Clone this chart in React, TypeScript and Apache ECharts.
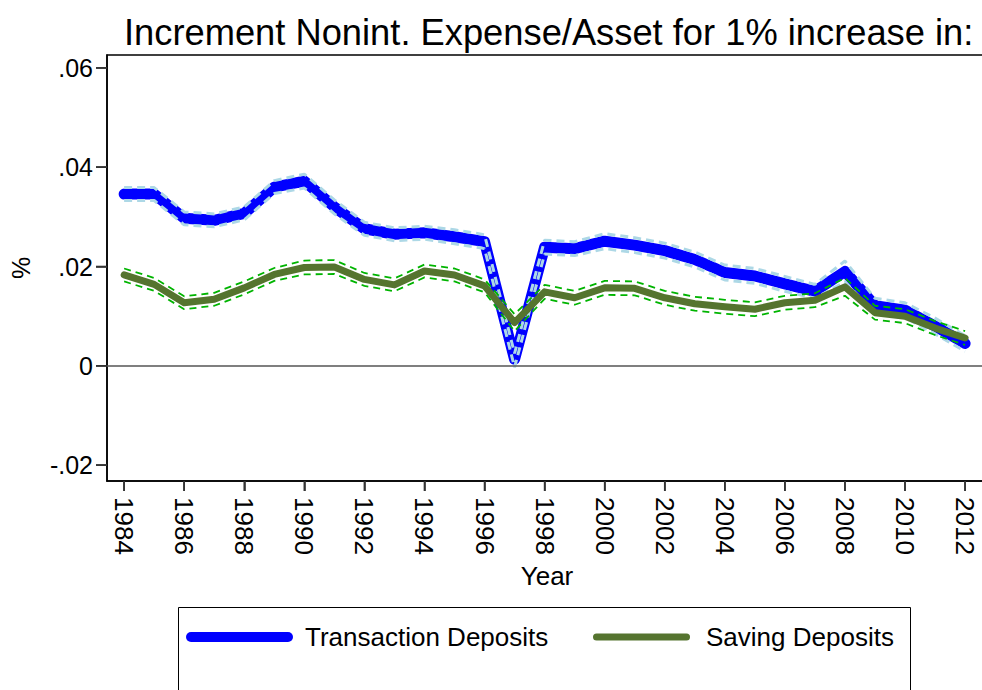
import React, { useEffect, useRef } from "react";
import * as echarts from "echarts";

const years = [1984,1985,1986,1987,1988,1989,1990,1991,1992,1993,1994,1995,1996,1997,1998,1999,2000,2001,2002,2003,2004,2005,2006,2007,2008,2009,2010,2011,2012];

const transVals = [0.0346,0.0346,0.0297,0.0293,0.0307,0.0360,0.0372,0.0320,0.0276,0.0265,0.0268,0.0260,0.0250,0.0013,0.0239,0.0236,0.0251,0.0243,0.0232,0.0214,0.0188,0.0181,0.0165,0.0150,0.0190,0.0121,0.0112,0.0080,0.0045];
const transLo = [0.0333,0.0333,0.0284,0.0280,0.0294,0.0347,0.0358,0.0306,0.0263,0.0252,0.0255,0.0246,0.0236,-0.0003,0.0225,0.0222,0.0236,0.0228,0.0217,0.0199,0.0173,0.0166,0.0150,0.0136,0.0169,0.0106,0.0097,0.0064,0.0029];
const transHi = [0.0359,0.0359,0.0310,0.0306,0.0320,0.0373,0.0386,0.0334,0.0289,0.0278,0.0281,0.0274,0.0264,0.0025,0.0253,0.0250,0.0266,0.0258,0.0247,0.0229,0.0203,0.0196,0.0180,0.0164,0.0211,0.0136,0.0127,0.0096,0.0061];

const savVals = [0.0183,0.0164,0.0127,0.0134,0.0157,0.0184,0.0198,0.0199,0.0174,0.0163,0.0191,0.0183,0.0161,0.0087,0.0149,0.0137,0.0157,0.0156,0.0137,0.0125,0.0119,0.0114,0.0127,0.0132,0.0159,0.0107,0.0100,0.0076,0.0056];
const savLo = [0.0170,0.0151,0.0114,0.0121,0.0144,0.0171,0.0184,0.0185,0.0161,0.0150,0.0178,0.0170,0.0148,0.0070,0.0135,0.0123,0.0143,0.0142,0.0123,0.0111,0.0105,0.0100,0.0113,0.0118,0.0141,0.0093,0.0086,0.0062,0.0042];
const savHi = [0.0196,0.0177,0.0140,0.0147,0.0170,0.0197,0.0212,0.0213,0.0187,0.0176,0.0204,0.0196,0.0174,0.0104,0.0163,0.0151,0.0171,0.0170,0.0151,0.0139,0.0133,0.0128,0.0141,0.0146,0.0177,0.0121,0.0114,0.0090,0.0070];

const xTicks = [1984,1986,1988,1990,1992,1994,1996,1998,2000,2002,2004,2006,2008,2010,2012];
const yTicks = [-0.02,0,0.02,0.04,0.06];

const X_MIN = 1983.43;
const X_MAX = 2012.73;
const Y_MIN = -0.0232;
const Y_MAX = 0.0626;

const FONT = "'Liberation Sans', Arial, Helvetica, sans-serif";

const pairs = (vals: number[]) => years.map((y, i) => [y, vals[i]]);

const fmtY = (v: number) => {
  if (Math.abs(v) < 1e-9) return "0";
  const s = Math.abs(v).toFixed(2).replace(/^0/, "");
  return (v < 0 ? "-" : "") + s;
};

export default function App() {
  const ref = useRef<HTMLDivElement>(null);
  useEffect(() => {
    if (!ref.current) return;
    const chart = echarts.init(ref.current, null, { renderer: "svg" });
    const blueIcon = "path://M5,0L102,0A5,5,0,0,1,102,10L5,10A5,5,0,0,1,5,0Z";
    const greenIcon = "path://M3.5,0L93.5,0A3.5,3.5,0,0,1,93.5,7L3.5,7A3.5,3.5,0,0,1,3.5,0Z";
    const legendBox = {
      id: "legendBox",
      type: "rect",
      shape: { x: 178.5, y: 607.5, width: 732, height: 120 },
      style: { fill: "none", stroke: "#000", lineWidth: 1 },
      silent: true,
    };
    const option: any = {
      animation: false,
      backgroundColor: "#fff",
      textStyle: { fontFamily: FONT },
      title: {
        text: "Increment Nonint. Expense/Asset for 1% increase in:",
        left: 119,
        top: 9,
        textStyle: { fontFamily: FONT, fontSize: 36.3, fontWeight: "normal", color: "#000" },
      },
      grid: {
        left: 107,
        top: 55,
        width: 880,
        height: 426,
        outerBoundsMode: "none",
        containLabel: false,
        show: true,
        borderColor: "#000",
        borderWidth: 1.5,
        backgroundColor: "transparent",
      },
      legend: [
        {
          data: [{ name: "Transaction Deposits", icon: blueIcon, itemStyle: { color: "#0000ff" } }],
          left: 181,
          top: 619,
          itemWidth: 107,
          itemHeight: 10,
          selectedMode: false,
          textStyle: { fontFamily: FONT, fontSize: 26, color: "#000", padding: [0, 0, 0, 7] },
        },
        {
          data: [{ name: "Saving Deposits", icon: greenIcon, itemStyle: { color: "#55742f" } }],
          left: 588,
          top: 619,
          itemWidth: 97,
          itemHeight: 7,
          selectedMode: false,
          textStyle: { fontFamily: FONT, fontSize: 26, color: "#000", padding: [0, 0, 0, 11] },
        },
      ],
      graphic: [legendBox],
      xAxis: {
        type: "value",
        min: X_MIN,
        max: X_MAX,
        splitLine: { show: false },
        axisLine: { show: true, onZero: false, lineStyle: { color: "#000", width: 1.5 } },
        axisTick: { show: true, inside: false, customValues: xTicks, length: 10, lineStyle: { color: "#333", width: 1.6 } },
        axisLabel: {
          customValues: xTicks,
          rotate: -90,
          fontSize: 26,
          color: "#000",
          margin: 16,
          fontFamily: FONT,
          formatter: (v: number) => String(Math.round(v)),
        },
        name: "Year",
        nameLocation: "middle",
        nameGap: 82,
        nameTextStyle: { fontSize: 26, color: "#000", fontFamily: FONT },
      },
      yAxis: {
        type: "value",
        min: Y_MIN,
        max: Y_MAX,
        splitLine: { show: false },
        axisLine: { show: true, onZero: false, lineStyle: { color: "#000", width: 1.5 } },
        axisTick: { show: true, inside: false, customValues: yTicks, length: 11, lineStyle: { color: "#333", width: 1.6 } },
        axisLabel: {
          customValues: yTicks,
          fontSize: 25,
          color: "#000",
          margin: 14,
          fontFamily: FONT,
          formatter: fmtY,
        },
        name: "%",
        nameLocation: "middle",
        nameRotate: 90,
        nameGap: 74,
        nameTextStyle: { fontSize: 25, color: "#000", fontFamily: FONT },
      },
      series: [
        {
          name: "Transaction Deposits",
          type: "line",
          data: pairs(transVals),
          showSymbol: false,
          symbol: "none",
          itemStyle: { color: "#0000ff" },
          lineStyle: { color: "#0000ff", width: 11, cap: "round", join: "round" },
          markLine: {
            silent: true,
            symbol: ["none", "none"],
            label: { show: false },
            lineStyle: { color: "#555", width: 1.5, type: "solid" },
            data: [{ yAxis: 0 }],
          },
        },
        {
          name: "Transaction Deposits lower",
          type: "line",
          data: pairs(transLo),
          symbol: "none",
          lineStyle: { color: "#add8e6", width: 3, type: [8, 5] },
        },
        {
          name: "Transaction Deposits upper",
          type: "line",
          data: pairs(transHi),
          symbol: "none",
          lineStyle: { color: "#add8e6", width: 3, type: [8, 5] },
        },
        {
          name: "Saving Deposits",
          type: "line",
          data: pairs(savVals),
          symbol: "none",
          itemStyle: { color: "#55742f" },
          lineStyle: { color: "#55742f", width: 7, cap: "round", join: "round" },
        },
        {
          name: "Saving Deposits lower",
          type: "line",
          data: pairs(savLo),
          symbol: "none",
          lineStyle: { color: "#00b400", width: 1.8, type: [7, 5] },
        },
        {
          name: "Saving Deposits upper",
          type: "line",
          data: pairs(savHi),
          symbol: "none",
          lineStyle: { color: "#00b400", width: 1.8, type: [7, 5] },
        },
      ],
    };
    chart.setOption(option);

    // Tick marks placed through the chart's own scales (convertToPixel)
    const tickEls: any[] = [];
    xTicks.forEach((t, i) => {
      const p = chart.convertToPixel({ gridIndex: 0 }, [t, Y_MIN]) as number[];
      if (p) {
        tickEls.push({
          id: "xt" + i,
          type: "line",
          silent: true,
          z: 100,
          shape: { x1: p[0], y1: p[1], x2: p[0], y2: p[1] + 10 },
          style: { stroke: "#333", lineWidth: 1.6 },
        });
      }
    });
    yTicks.forEach((t, i) => {
      const p = chart.convertToPixel({ gridIndex: 0 }, [X_MIN, t]) as number[];
      if (p) {
        tickEls.push({
          id: "yt" + i,
          type: "line",
          silent: true,
          z: 100,
          shape: { x1: p[0] - 11, y1: p[1], x2: p[0], y2: p[1] },
          style: { stroke: "#333", lineWidth: 1.6 },
        });
      }
    });
    chart.setOption({ graphic: [legendBox, ...tickEls] });

    return () => chart.dispose();
  }, []);
  return (
    <div
      ref={ref}
      style={{ position: "fixed", left: 0, top: 0, width: 982, height: 690, background: "#fff" }}
    />
  );
}
